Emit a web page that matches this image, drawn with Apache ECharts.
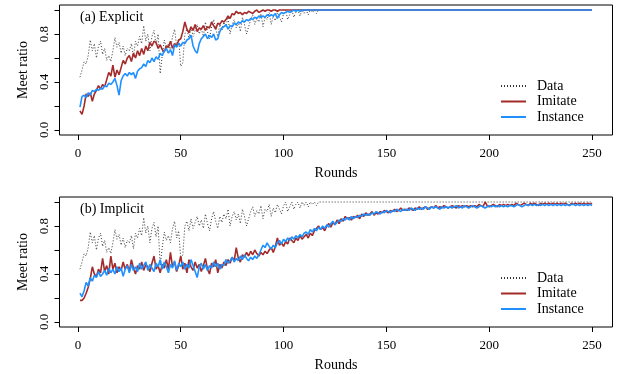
<!DOCTYPE html>
<html><head><meta charset="utf-8">
<script src="https://cdn.jsdelivr.net/npm/echarts@6/dist/echarts.min.js"></script>
<style>html,body{margin:0;padding:0;background:#fff}#c{width:624px;height:374px}</style>
</head><body><div id="c"></div>
<script>
// Human data (shared by both panels), rounds 1..250
var dataHuman = [
0.44,0.50,0.57,0.55,0.62,0.75,0.66,0.72,0.60,0.70,
0.74,0.63,0.68,0.58,0.62,0.57,0.66,0.77,0.69,0.73,
0.64,0.70,0.62,0.68,0.66,0.72,0.61,0.74,0.70,0.78,
0.72,0.87,0.74,0.80,0.66,0.78,0.83,0.71,0.80,0.47,
0.62,0.75,0.68,0.72,0.66,0.78,0.84,0.70,0.76,0.53,
0.56,0.80,0.84,0.76,0.86,0.78,0.83,0.88,0.80,0.85,
0.78,0.90,0.82,0.76,0.86,0.92,0.84,0.78,0.88,0.83,
0.90,0.86,0.94,0.80,0.88,0.92,0.85,0.90,0.82,0.94,
0.88,0.80,0.86,0.92,0.96,0.88,0.93,0.90,0.97,0.86,
0.94,0.92,0.98,0.88,0.95,0.91,0.98,0.94,0.90,0.97,
1.00,0.92,0.96,1.00,0.94,0.98,1.00,0.95,1.00,0.97,
1.00,0.96,1.00,0.98,1.00,0.97,
1,1,1,1,1,1,1,1,1,1, 1,1,1,1,1,1,1,1,1,1, 1,1,1,1,1,1,1,1,1,1,
1,1,1,1,1,1,1,1,1,1, 1,1,1,1,1,1,1,1,1,1, 1,1,1,1,1,1,1,1,1,1,
1,1,1,1,1,1,1,1,1,1, 1,1,1,1,1,1,1,1,1,1, 1,1,1,1,1,1,1,1,1,1,
1,1,1,1,1,1,1,1,1,1, 1,1,1,1,1,1,1,1,1,1, 1,1,1,1,1,1,1,1,1,1,
1,1,1,1,1,1,1,1,1,1, 1,1,1,1
];
// (a) Explicit
var imitateA = [
0.16,0.13,0.20,0.30,0.28,0.31,0.24,0.30,0.33,0.37,
0.34,0.38,0.36,0.42,0.48,0.45,0.54,0.44,0.50,0.46,
0.52,0.58,0.55,0.60,0.62,0.57,0.64,0.60,0.66,0.62,
0.68,0.63,0.70,0.66,0.73,0.70,0.74,0.73,0.68,0.71,
0.67,0.65,0.70,0.69,0.74,0.68,0.72,0.70,0.75,0.76,
0.82,0.90,0.84,0.81,0.86,0.83,0.88,0.82,0.85,0.84,
0.87,0.83,0.86,0.85,0.90,0.87,0.84,0.89,0.88,0.91,
0.90,0.92,0.95,0.93,0.97,0.96,0.99,0.97,0.98,0.96,
0.98,0.97,0.99,0.98,0.97,0.99,1.00,0.98,0.99,1.00,
0.99,1.00,1.00,0.99,1.00,1.00,0.99,1.00,1.00,1.00,
1,1,1,1,1,1,1,1,1,1, 1,1,1,1,1,1,1,1,1,1, 1,1,1,1,1,1,1,1,1,1,
1,1,1,1,1,1,1,1,1,1, 1,1,1,1,1,1,1,1,1,1, 1,1,1,1,1,1,1,1,1,1,
1,1,1,1,1,1,1,1,1,1, 1,1,1,1,1,1,1,1,1,1, 1,1,1,1,1,1,1,1,1,1,
1,1,1,1,1,1,1,1,1,1, 1,1,1,1,1,1,1,1,1,1, 1,1,1,1,1,1,1,1,1,1,
1,1,1,1,1,1,1,1,1,1, 1,1,1,1,1,1,1,1,1,1, 1,1,1,1,1,1,1,1,1,1
];
var instanceA = [
0.19,0.28,0.29,0.27,0.31,0.29,0.33,0.32,0.34,0.33,
0.35,0.34,0.37,0.36,0.39,0.38,0.40,0.43,0.37,0.29,
0.41,0.45,0.47,0.45,0.48,0.46,0.48,0.43,0.49,0.51,
0.52,0.55,0.53,0.58,0.56,0.60,0.57,0.61,0.59,0.64,
0.62,0.66,0.68,0.64,0.67,0.62,0.71,0.69,0.72,0.70,
0.73,0.72,0.75,0.76,0.79,0.70,0.66,0.64,0.72,0.76,
0.78,0.80,0.76,0.79,0.77,0.80,0.75,0.76,0.82,0.85,
0.86,0.88,0.84,0.87,0.86,0.89,0.88,0.90,0.89,0.91,
0.90,0.92,0.91,0.93,0.92,0.94,0.93,0.95,0.94,0.95,
0.94,0.96,0.95,0.96,0.95,0.97,0.93,0.96,0.98,0.97,
0.98,0.99,0.98,0.99,1.00,0.99,1.00,0.99,1.00,1.00,
1,1,1,1,1,1,1,1,1,1, 1,1,1,1,1,1,1,1,1,1, 1,1,1,1,1,1,1,1,1,1,
1,1,1,1,1,1,1,1,1,1, 1,1,1,1,1,1,1,1,1,1, 1,1,1,1,1,1,1,1,1,1,
1,1,1,1,1,1,1,1,1,1, 1,1,1,1,1,1,1,1,1,1, 1,1,1,1,1,1,1,1,1,1,
1,1,1,1,1,1,1,1,1,1, 1,1,1,1,1,1,1,1,1,1, 1,1,1,1,1,1,1,1,1,1,
1,1,1,1,1,1,1,1,1,1, 1,1,1,1,1,1,1,1,1,1
];
// (b) Implicit
var imitateB = [
0.18,0.18,0.20,0.24,0.29,0.36,0.46,0.40,0.38,0.44,
0.41,0.53,0.42,0.47,0.40,0.55,0.44,0.49,0.41,0.46,
0.43,0.50,0.44,0.48,0.42,0.52,0.45,0.40,0.47,0.44,
0.50,0.43,0.48,0.46,0.42,0.49,0.55,0.44,0.47,0.41,
0.48,0.45,0.52,0.44,0.58,0.46,0.50,0.42,0.47,0.55,
0.44,0.49,0.41,0.52,0.46,0.43,0.50,0.45,0.48,0.42,
0.47,0.53,0.44,0.40,0.49,0.46,0.52,0.41,0.48,0.45,
0.50,0.47,0.52,0.49,0.54,0.51,0.62,0.53,0.50,0.56,
0.54,0.58,0.55,0.59,0.56,0.60,0.57,0.55,0.58,0.56,
0.59,0.57,0.60,0.62,0.58,0.63,0.70,0.64,0.66,0.63,
0.67,0.65,0.70,0.68,0.66,0.70,0.68,0.72,0.69,0.71,
0.73,0.70,0.74,0.72,0.76,0.78,0.80,0.77,0.79,0.76,
0.80,0.82,0.79,0.83,0.81,0.85,0.82,0.86,0.84,0.88,
0.86,0.87,0.85,0.88,0.87,0.89,0.86,0.90,0.88,0.91,
0.89,0.90,0.92,0.89,0.91,0.90,0.92,0.91,0.93,0.92,
0.91,0.93,0.92,0.94,0.92,0.93,0.95,0.93,0.94,0.93,
0.95,0.94,0.93,0.95,0.94,0.96,0.94,0.95,0.96,0.94,
0.95,0.96,0.95,0.97,0.95,0.96,0.95,0.97,0.96,0.95,
0.96,0.97,0.96,0.95,0.97,0.96,0.97,0.96,0.97,0.96,
0.97,0.96,0.97,0.96,0.98,0.97,0.96,1.00,0.97,0.96,
0.97,0.98,0.97,0.96,0.98,0.97,0.98,0.97,0.98,0.97,
0.98,0.97,0.99,0.98,0.97,0.98,0.99,0.98,0.97,0.99,
0.98,0.99,0.98,0.97,0.99,0.98,0.99,0.98,0.99,0.98,
0.99,0.98,0.99,0.98,0.99,0.98,0.99,0.98,0.97,0.99,
0.98,0.99,0.98,0.99,0.98,0.99,0.98,0.99,0.98,0.99
];
var instanceB = [
0.24,0.21,0.26,0.33,0.30,0.37,0.34,0.39,0.37,0.42,
0.38,0.40,0.43,0.39,0.45,0.41,0.44,0.40,0.46,0.42,
0.45,0.38,0.44,0.47,0.41,0.48,0.43,0.46,0.42,0.49,
0.44,0.47,0.50,0.43,0.48,0.45,0.42,0.49,0.46,0.52,
0.44,0.50,0.46,0.41,0.48,0.45,0.51,0.43,0.49,0.46,
0.50,0.44,0.48,0.45,0.52,0.47,0.42,0.37,0.46,0.49,
0.44,0.48,0.43,0.47,0.45,0.50,0.46,0.49,0.44,0.48,
0.47,0.52,0.49,0.51,0.54,0.50,0.53,0.51,0.55,0.52,
0.56,0.53,0.51,0.54,0.52,0.55,0.53,0.56,0.60,0.64,
0.62,0.66,0.63,0.61,0.64,0.62,0.66,0.68,0.65,0.69,
0.67,0.70,0.68,0.71,0.69,0.72,0.70,0.73,0.71,0.74,
0.75,0.73,0.77,0.75,0.78,0.76,0.79,0.77,0.80,0.78,
0.81,0.79,0.82,0.84,0.81,0.83,0.85,0.84,0.86,0.85,
0.87,0.85,0.88,0.86,0.88,0.87,0.89,0.88,0.90,0.89,
0.90,0.89,0.91,0.90,0.92,0.91,0.90,0.92,0.91,0.93,
0.92,0.91,0.93,0.92,0.94,0.93,0.92,0.94,0.93,0.94,
0.93,0.95,0.94,0.93,0.95,0.94,0.95,0.94,0.96,0.95,
0.94,0.96,0.95,0.96,0.95,0.94,0.96,0.95,0.96,0.95,
0.96,0.95,0.96,0.97,0.95,0.96,0.95,0.97,0.96,0.95,
0.96,0.97,0.96,0.95,0.96,0.97,0.96,0.95,0.96,0.97,
0.96,0.97,0.96,0.97,0.96,0.97,0.96,0.97,0.96,0.97,
0.97,0.96,0.97,0.98,0.97,0.96,0.97,0.98,0.97,0.98,
0.97,0.98,0.97,0.98,0.97,0.98,0.97,0.98,0.97,0.98,
0.97,0.98,0.97,0.98,0.97,0.98,0.97,0.98,0.97,0.98,
0.98,0.97,0.98,0.97,0.98,0.97,0.98,0.97,0.98,0.97
];
var xTicks = [0, 50, 100, 150, 200, 250];
var yTicks = [0, 0.2, 0.4, 0.6, 0.8, 1.0];
var yLabels = [0, 0.4, 0.8];
var seriesNames = ['Data', 'Imitate', 'Instance'];
var panelTitles = ['(a) Explicit', '(b) Implicit'];

var FONT = 'Liberation Serif';
function pts(arr) { return arr.map(function (v, i) { return [i + 1, v]; }); }

var grids = [
  { left: 59.5, top: 5, width: 553, height: 130 },
  { left: 59.5, top: 197, width: 553, height: 130 }
];
var xAxes = [], yAxes = [], series = [], legends = [], titles = [];
var panels = [[dataHuman, imitateA, instanceA], [dataHuman, imitateB, instanceB]];
var styles = [
  { color: '#333333', width: 1, type: [1, 2] },
  { color: '#A52A2A', width: 1.6, type: 'solid' },
  { color: '#1E90FF', width: 1.6, type: 'solid' }
];
grids.forEach(function (g, k) {
  g.show = true; g.borderColor = '#000'; g.borderWidth = 1; g.backgroundColor = 'transparent';
  xAxes.push({
    type: 'value', gridIndex: k, min: -8.96, max: 259.96, position: 'bottom',
    name: 'Rounds', nameLocation: 'middle', nameGap: 31,
    nameTextStyle: { fontFamily: FONT, fontSize: 14, color: '#000' },
    axisLine: { show: false, onZero: false },
    axisTick: { show: true, length: 5, inside: false, customValues: xTicks, lineStyle: { color: '#000', width: 1 } },
    axisLabel: { customValues: xTicks, margin: 12, fontFamily: FONT, fontSize: 13, color: '#000' },
    splitLine: { show: false }
  });
  yAxes.push({
    type: 'value', gridIndex: k, min: -0.0417, max: 1.0417, position: 'left',
    name: 'Meet ratio', nameLocation: 'middle', nameGap: 29, nameRotate: 90,
    nameTextStyle: { fontFamily: FONT, fontSize: 14, color: '#000' },
    axisLine: { show: false, onZero: false },
    axisTick: { show: true, length: 5, customValues: yTicks, lineStyle: { color: '#000', width: 1 } },
    axisLabel: { customValues: yLabels, rotate: 90, margin: 8, fontFamily: FONT, fontSize: 13, color: '#000',
      formatter: function (v) { return Number(v).toFixed(1); } },
    splitLine: { show: false }
  });
  panels[k].forEach(function (arr, j) {
    series.push({
      type: 'line', name: seriesNames[j], xAxisIndex: k, yAxisIndex: k,
      data: pts(arr), symbol: 'none', showSymbol: false, animation: false,
      lineStyle: styles[j], itemStyle: { color: styles[j].color }, z: j === 0 ? 1 : j + 1
    });
  });
  legends.push({
    orient: 'vertical', left: 500, top: g.top + 74, padding: 0, itemWidth: 25, itemHeight: 14, itemGap: 1.5,
    data: seriesNames, selectedMode: false,
    itemStyle: { opacity: 0 },
    textStyle: { fontFamily: FONT, fontSize: 14, color: '#000', padding: [0, 0, 0, 6] }
  });
  titles.push({
    text: panelTitles[k], left: 80, top: g.top + 5, padding: 0,
    textStyle: { fontFamily: FONT, fontSize: 14, fontWeight: 'normal', color: '#000' }
  });
});

var chart = echarts.init(document.getElementById('c'), null, { renderer: 'canvas' });
chart.setOption({
  animation: false, backgroundColor: '#fff',
  title: titles, grid: grids, xAxis: xAxes, yAxis: yAxes, legend: legends, series: series
});
</script></body></html>
